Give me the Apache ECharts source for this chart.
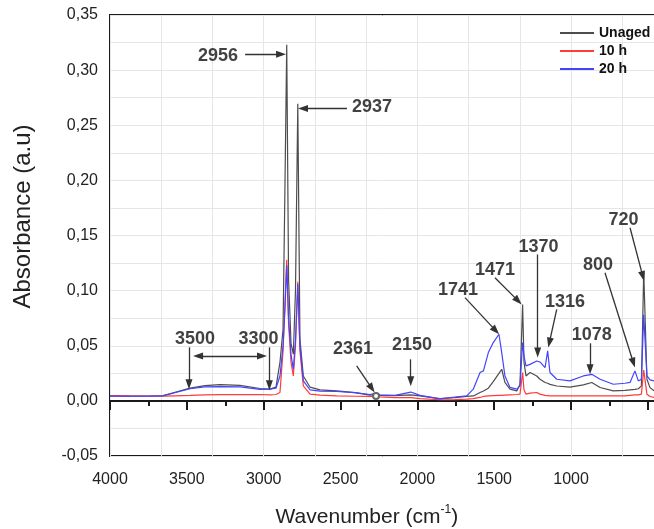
<!DOCTYPE html>
<html><head><meta charset="utf-8">
<script src="https://cdn.jsdelivr.net/npm/echarts@6/dist/echarts.min.js"></script>
<style>html,body{margin:0;padding:0;background:#fff}#c{width:654px;height:529px}</style>
</head><body><div id="c"></div>
<script>
// ---- data ----
const wavenumbers = [4000,3870,3740,3655,3577,3479,3382,3284,3154,3024,2959,2920,2894,2874,2861,2850,2838,2822,2807,2793,2778,2764,2742,2698,2633,2525,2406,2308,2269,2243,2145,2043,1983,1853,1755,1679,1636,1592,1570,1538,1506,1469,1451,1430,1397,1353,1332,1315,1306,1293,1267,1223,1202,1169,1152,1137,1093,1007,920,865,811,725,649,616,584,562,542,527,506,486,460];
const unaged = [.0045,.0043,.0044,.0048,.0078,.0115,.0138,.0148,.0140,.0112,.0106,.0125,.0350,.0649,.2000,.3229,.1100,.0520,.0423,.1000,.2695,.0560,.0226,.0124,.0100,.0091,.0075,.0052,.0060,.0050,.0048,.0055,.0045,.0020,.0030,.0040,.0045,.0076,.0090,.0115,.0175,.0250,.0287,.0167,.0106,.0090,.0150,.0875,.0350,.0226,.0257,.0226,.0196,.0167,.0160,.0150,.0135,.0125,.0145,.0167,.0121,.0091,.0095,.0100,.0104,.0110,.0136,.1180,.0196,.0120,.0091];
const h10 = [.0048,.0045,.0044,.0043,.0046,.0050,.0055,.0057,.0057,.0058,.0055,.0058,.0076,.0450,.0900,.1280,.0700,.0350,.0226,.0500,.1080,.0450,.0136,.0061,.0052,.0045,.0042,.0040,.0040,.0036,.0030,.0030,.0020,.0010,.0012,.0015,.0020,.0031,.0040,.0045,.0048,.0050,.0050,.0052,.0055,.0058,.0061,.0257,.0100,.0061,.0070,.0076,.0061,.0050,.0048,.0046,.0045,.0045,.0045,.0046,.0045,.0045,.0045,.0050,.0055,.0055,.0061,.0280,.0061,.0040,.0031];
const h20 = [.0043,.0042,.0043,.0046,.0074,.0110,.0127,.0130,.0127,.0105,.0106,.0115,.0226,.0498,.0850,.1230,.0750,.0420,.0287,.0550,.1060,.0500,.0181,.0100,.0088,.0085,.0075,.0058,.0070,.0055,.0050,.0080,.0050,.0018,.0035,.0045,.0106,.0257,.0272,.0438,.0529,.0604,.0438,.0226,.0122,.0106,.0136,.0529,.0407,.0317,.0331,.0362,.0353,.0302,.0453,.0257,.0196,.0181,.0226,.0241,.0196,.0151,.0160,.0167,.0272,.0181,.0196,.0780,.0226,.0190,.0181];
const seriesNames = ['Unaged','10 h','20 h'];

// peak annotations (axis units)
const noteLabels = ['2956','2937','3500','3300','2361','2150','1741','1471','1370','1316','1078','800','720'];
const noteTextAt = [[3297,0.3125],[2295,0.2667],[3447,0.0563],[3034,0.0558],[2419,0.0468],[2035,0.0509],[1735,0.1007],[1495,0.1188],[1212,0.1396],[1039,0.0898],[865,0.0595],[824,0.1233],[658,0.1640]];
const arrowFrom = [[3121,0.3144],[2458,0.2652],[3486,0.0486],[2963,0.0486],[2395,0.0317],[2043,0.0377],[1690,0.0936],[1495,0.1117],[1217,0.1328],[1093,0.0830],[876,0.0522],[779,0.1162],[616,0.1570]];
const arrowTo = [[2887,0.3144],[2744,0.2652],[3486,0.0151],[2963,0.0142],[2296,0.0113],[2043,0.0178],[1490,0.0637],[1344,0.0907],[1217,0.0438],[1141,0.0528],[876,0.0287],[594,0.0346],[533,0.1131]];
const spanArrow = [[3427,0.0407],[3011,0.0407]];
const circleMark = [2269,0.0045];

// ---- chart ----
const FONT = "'Liberation Sans', Arial, sans-serif";
const chart = echarts.init(document.getElementById('c'), null, {renderer:'canvas'});
const colors = ['#4d4d4d','#ff3b3b','#4444ff'];
const lines = [unaged, h10, h20].map((vals, k) => ({
  name: seriesNames[k], type: 'line', symbol: 'none', z: 2 + k,
  data: wavenumbers.map((w, i) => [w, vals[i]]),
  lineStyle: {color: colors[k], width: 1.2},
  itemStyle: {color: colors[k]}
}));
const arrowData = arrowFrom.map((f, i) => [{coord: f}, {coord: arrowTo[i]}]);
arrowData.push([{coord: spanArrow[0], symbol: 'triangle'}, {coord: spanArrow[1]}]);

const notes = {
  name: 'notes', type: 'scatter', z: 10, silent: true,
  data: noteLabels.map((t, i) => ({name: t, value: noteTextAt[i]})),
  symbolSize: 1, itemStyle: {color: 'rgba(0,0,0,0)'},
  label: {show: true, position: 'inside', formatter: p => p.name,
          fontFamily: FONT, fontSize: 18, fontWeight: 'bold', color: '#111'},
  markLine: {
    silent: true, animation: false,
    symbol: ['none', 'triangle'], symbolSize: [7, 10],
    lineStyle: {color: '#333', width: 1.3, type: 'solid'},
    itemStyle: {color: '#111'},
    label: {show: false},
    data: arrowData
  },
  markPoint: {
    silent: true, symbol: 'emptyCircle', symbolSize: 6,
    itemStyle: {color: '#666', borderColor: '#666'},
    label: {show: false},
    data: [{coord: circleMark}]
  }
};

const axisDark = '#1a1a1a';
const gridCol = '#e6e6e6';
chart.setOption({
  animation: false,
  backgroundColor: '#fff',
  grid: {left: 110, top: 15, right: -70.7, bottom: 73, show: true, borderColor: axisDark, borderWidth: 2,
         containLabel: false, outerBoundsMode: 'none'},
  legend: {
    data: seriesNames, orient: 'vertical', left: 560, top: 25, padding: 0,
    icon: 'rect', itemWidth: 34, itemHeight: 2, itemGap: 2,
    textStyle: {fontFamily: FONT, fontSize: 14, fontWeight: 'bold', color: '#111', lineHeight: 16}
  },
  xAxis: [{
    type: 'value', inverse: true, min: 0, max: 4000, interval: 500,
    axisLine: {show: true, lineStyle: {color: axisDark, width: 2}},
    axisTick: {show: true, length: 9, lineStyle: {color: axisDark, width: 2}},
    minorTick: {show: true, splitNumber: 2, length: 5, lineStyle: {color: axisDark, width: 2}},
    splitLine: {show: false},
    axisLabel: {formatter: v => (v >= 1000 ? String(v) : ''), fontFamily: FONT, fontSize: 16, color: '#222', margin: 16,
                showMinLabel: true, showMaxLabel: true},
    name: '{a|Wavenumber (cm}{s|-1}{a|)}', nameLocation: 'middle', nameGap: 48,
    nameTextStyle: {fontFamily: FONT, color: '#222', padding: [0, 101, 0, 0],
      rich: {a: {fontFamily: FONT, fontSize: 21, color: '#222', lineHeight: 26},
             s: {fontFamily: FONT, fontSize: 12, color: '#222', verticalAlign: 'top', lineHeight: 26}}}
  }, {
    type: 'value', inverse: true, min: 0, max: 12, interval: 1,
    axisLine: {show: false}, axisTick: {show: false}, axisLabel: {show: false},
    splitLine: {show: true, lineStyle: {color: gridCol, width: 1}}
  }],
  yAxis: {
    type: 'value', min: -0.05, max: 0.35, interval: 0.05,
    axisLine: {show: true, lineStyle: {color: axisDark, width: 2}},
    axisTick: {show: true, length: 9, lineStyle: {color: axisDark, width: 2}},
    minorTick: {show: true, splitNumber: 2, length: 5, lineStyle: {color: axisDark, width: 2}},
    splitLine: {show: true, lineStyle: {color: gridCol, width: 1}},
    minorSplitLine: {show: true, lineStyle: {color: gridCol, width: 1}},
    axisLabel: {formatter: v => v.toFixed(2).replace('.', ','), fontFamily: FONT, fontSize: 16, color: '#222', margin: 12},
    name: 'Absorbance (a.u)', nameLocation: 'middle', nameGap: 75,
    nameTextStyle: {fontFamily: FONT, fontSize: 24, color: '#222', padding: [0, 0, 0, 38]}
  },
  series: [...lines, notes]
});
</script></body></html>
